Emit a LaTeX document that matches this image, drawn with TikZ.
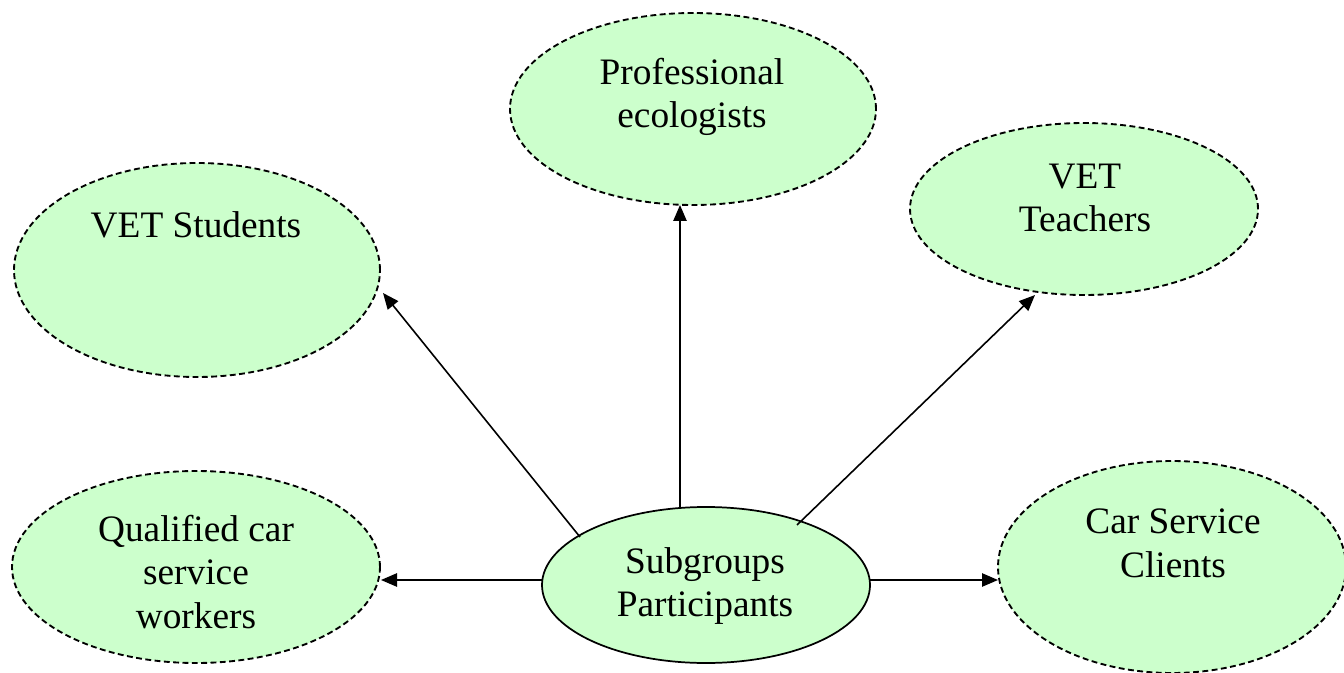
\documentclass[tikz,border=0pt]{standalone}
\usepackage{fontspec}
\setmainfont{Liberation Serif}
\usetikzlibrary{shapes.geometric,arrows.meta}
\definecolor{bubble}{RGB}{204,255,204}
\tikzset{
  group/.style 2 args={ellipse, fill=bubble, draw=black, line width=1.4pt,
    dash pattern=on 4.4pt off 2.6pt, inner sep=0pt, outer sep=0pt,
    minimum width=#1*1.5pt, minimum height=#2*1.5pt},
  hub/.style 2 args={ellipse, fill=bubble, draw=black, line width=1.3pt,
    inner sep=0pt, outer sep=0pt,
    minimum width=#1*1.5pt, minimum height=#2*1.5pt},
  lbl/.style={align=center, inner sep=0pt,
    font=\fontsize{28}{32.8}\selectfont},
  link/.style={line width=1.2pt, -{Triangle[length=12pt,width=10pt]}}
}
\begin{document}
\begin{tikzpicture}[x=0.75pt,y=-0.75pt]
\useasboundingbox (0,0) rectangle (1344,673);

% participant groups
\node[group={183}{96}]  (pe) at (693,109) {};
\node[group={183}{107}] (vs) at (197,270) {};
\node[group={174}{86}]  (vt) at (1084,209) {};
\node[group={184}{96}]  (qw) at (196,567) {};
\node[group={174}{106}] (cc) at (1172,567) {};
\node[hub={164}{78}]    (sp) at (706,585) {};

% labels
\node[lbl] (tpe) at (692,97) {Professional\\ecologists};
\node[lbl, anchor=base] (tvs) at (196,238) {VET Students};
\node[lbl] (tvt) at (1085,198) {VET\\Teachers};
\node[lbl] (tqw) at (196,572) {Qualified car\\service\\workers};
\node[lbl] (tcc) at (1173,543) {Car Service\\Clients};
\node[lbl] (tsp) at (705,586) {Subgroups\\Participants};

% arrow ends
\coordinate (s1) at (680,508);  \coordinate (e1) at (680,205);
\coordinate (s2) at (580,537);  \coordinate (e2) at (383,293);
\coordinate (s3) at (797,525);  \coordinate (e3) at (1035,295);
\coordinate (s4) at (542,580);  \coordinate (e4) at (381,580);
\coordinate (s5) at (870,580);  \coordinate (e5) at (998,580);

\draw[link] (s1) -- (e1);
\draw[link] (s2) -- (e2);
\draw[link] (s3) -- (e3);
\draw[link] (s4) -- (e4);
\draw[link] (s5) -- (e5);
\end{tikzpicture}
\end{document}
